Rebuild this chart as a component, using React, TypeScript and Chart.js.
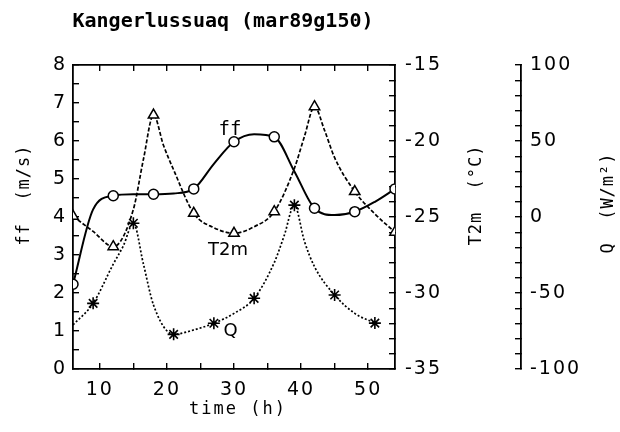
import React, { useEffect, useRef } from 'react';
import { Chart, registerables } from 'chart.js';

Chart.register(...registerables);

// ---- data ----
const ffHours = [6, 9, 12, 15, 18, 21, 24, 27, 30, 33, 36, 39, 42, 45, 48, 51, 54];
const ffValues = [2.23, 4.2, 4.56, 4.6, 4.6, 4.62, 4.74, 5.4, 5.98, 6.18, 6.11, 5.2, 4.23, 4.05, 4.14, 4.4, 4.74];
const t2mHours = [6, 9, 12, 15, 16.5, 18, 19.5, 21, 24, 27, 30, 33, 36, 39, 40.5, 42, 43.5, 45, 48, 51, 54];
const t2mValues = [-24.95, -25.95, -26.95, -24.5, -21.2, -18.29, -20.3, -21.9, -24.76, -25.7, -26.07, -25.64, -24.65, -21.8, -19.7, -17.74, -19.3, -21.1, -23.33, -24.8, -26.0];
const qHours = [6, 9, 12, 13.5, 15, 16.5, 18, 21, 24, 27, 30, 33, 36, 37.5, 39, 40.5, 42, 45, 48, 51];
const qValues = [-71, -56.8, -31, -19, -4.1, -31, -57.9, -77.2, -74.3, -69.9, -63.4, -53.5, -30, -12, 7.8, -16, -32.7, -51.3, -63.4, -69.8];

const ffMarkerHours = [6, 12, 18, 24, 30, 36, 42, 48, 54];
const t2mMarkerHours = [6, 12, 18, 24, 30, 36, 42, 48, 54];
const qMarkerHours = [9, 15, 21, 27, 33, 39, 45, 51];

// ---- ticks ----
const xMajorTicks = [10, 20, 30, 40, 50];
const ffMajorTicks = [0, 1, 2, 3, 4, 5, 6, 7, 8];
const t2mMajorTicks = [-35, -30, -25, -20, -15];
const qMajorTicks = [-100, -50, 0, 50, 100];

// ---- texts ----
const titleText = 'Kangerlussuaq (mar89g150)';
const xTitle = 'time (h)';
const ffTitle = 'ff  (m/s)';
const t2mTitle = 'T2m  (°C)';
const qTitle = 'Q  (W/m²)';
const seriesLabels = ['ff', 'T2m', 'Q'];
const seriesLabelHours = [29.4, 29.1, 29.5];
const seriesLabelLevels = [6.29, 3.11, 1.0];

function minorTicks(min: number, max: number, step: number) {
  const out: { value: number }[] = [];
  const n = Math.round((max - min) / step);
  for (let i = 0; i <= n; i++) out.push({ value: +(min + i * step).toFixed(4) });
  return out;
}

const tickFont = { family: 'DejaVu Sans', size: 19 };

function gridOpts() {
  return {
    drawOnChartArea: false,
    drawTicks: true,
    tickLength: -6,
    color: '#000',
    tickColor: '#000',
    tickWidth: 1.4,
    lineWidth: 1.4,
  };
}
const borderOpts = { display: true, color: '#000', width: 1.8 };

const textPlugin = {
  id: 'texts',
  beforeLayout(chart: any) {
    try { (chart.ctx as any).letterSpacing = '2px'; } catch (e) { /* ignore */ }
  },
  afterDraw(chart: any) {
    const ctx = chart.ctx as CanvasRenderingContext2D;
    const xs = chart.scales.x;
    const ys = chart.scales.y;
    ctx.save();
    ctx.fillStyle = '#000';
    ctx.textAlign = 'center';
    ctx.textBaseline = 'middle';
    (ctx as any).letterSpacing = '0px';
    ctx.font = 'bold 20px "DejaVu Sans Mono"';
    ctx.fillText(titleText, 223, 22);

    (ctx as any).letterSpacing = '2px';
    ctx.font = '17px "DejaVu Sans Mono"';
    ctx.fillText(xTitle, 238, 410);

    (ctx as any).letterSpacing = '1px';
    const vt = (t: string, x: number, y: number) => {
      ctx.save();
      ctx.translate(x, y);
      ctx.rotate(-Math.PI / 2);
      ctx.fillText(t, 0, 0);
      ctx.restore();
    };
    vt(ffTitle, 25, 195);
    vt(t2mTitle, 477, 195);
    vt(qTitle, 609, 203);

    (ctx as any).letterSpacing = '0px';
    seriesLabels.forEach((t, i) => {
      ctx.font = t === 'ff' ? '19px "DejaVu Sans Mono"' : '18px "DejaVu Sans"';
      ctx.fillText(t, xs.getPixelForValue(seriesLabelHours[i]), ys.getPixelForValue(seriesLabelLevels[i]));
    });
    ctx.restore();
  },
};

export default function App() {
  const ref = useRef<HTMLCanvasElement | null>(null);
  useEffect(() => {
    document.body.style.margin = '0';
    const canvas = ref.current!;
    const radiusFor = (marks: number[], hs: number[], r: number) => (c: any) =>
      marks.includes(hs[c.dataIndex]) ? r : 0;

    const chart = new Chart(canvas, {
      type: 'line',
      data: {
        datasets: [
          {
            label: 'ff',
            data: ffHours.map((h, i) => ({ x: h, y: ffValues[i] })),
            yAxisID: 'y',
            borderColor: '#000',
            borderWidth: 2,
            cubicInterpolationMode: 'monotone',
            pointStyle: 'circle',
            pointRadius: radiusFor(ffMarkerHours, ffHours, 5),
            pointBackgroundColor: '#fff',
            pointBorderColor: '#000',
            pointBorderWidth: 1.5,
            fill: false,
          } as any,
          {
            label: 'T2m',
            data: t2mHours.map((h, i) => ({ x: h, y: t2mValues[i] })),
            yAxisID: 'yT',
            borderColor: '#000',
            borderWidth: 1.7,
            borderDash: [4, 2],
            cubicInterpolationMode: 'monotone',
            pointStyle: 'triangle',
            pointRadius: radiusFor(t2mMarkerHours, t2mHours, 6),
            pointBackgroundColor: '#fff',
            pointBorderColor: '#000',
            pointBorderWidth: 1.5,
            fill: false,
          } as any,
          {
            label: 'Q',
            data: qHours.map((h, i) => ({ x: h, y: qValues[i] })),
            yAxisID: 'yQ',
            borderColor: '#000',
            borderWidth: 1.7,
            borderDash: [2, 2],
            cubicInterpolationMode: 'monotone',
            pointStyle: 'star',
            pointRadius: radiusFor(qMarkerHours, qHours, 6),
            pointBackgroundColor: '#000',
            pointBorderColor: '#000',
            pointBorderWidth: 1.6,
            fill: false,
          } as any,
        ],
      },
      options: {
        responsive: false,
        animation: false,
        devicePixelRatio: 1,
        layout: { padding: { top: 65, left: 0, right: 0, bottom: 0 } },
        plugins: { legend: { display: false }, tooltip: { enabled: false }, title: { display: false } },
        scales: {
          x: {
            type: 'linear',
            position: 'bottom',
            min: 6,
            max: 54,
            border: borderOpts,
            grid: gridOpts(),
            ticks: {
              autoSkip: false,
              maxRotation: 0,
              padding: 16,
              color: '#000',
              font: tickFont,
              callback: (v: any) => (xMajorTicks.includes(v) ? String(v) : ''),
            },
            afterBuildTicks: (s: any) => { s.ticks = minorTicks(10, 50, 5); },
            afterFit: (s: any) => { s.height = 63; },
          },
          xTop: {
            type: 'linear',
            position: 'top',
            min: 6,
            max: 54,
            border: borderOpts,
            grid: gridOpts(),
            ticks: { display: false },
            afterBuildTicks: (s: any) => { s.ticks = minorTicks(10, 50, 5); },
            afterFit: (s: any) => { s.height = 0; },
          },
          y: {
            type: 'linear',
            position: 'left',
            min: 0,
            max: 8,
            border: borderOpts,
            grid: gridOpts(),
            ticks: {
              autoSkip: false,
              padding: 12,
              color: '#000',
              font: tickFont,
              callback: (v: any) => (ffMajorTicks.includes(v) ? String(v) : ''),
            },
            afterBuildTicks: (s: any) => { s.ticks = minorTicks(0, 8, 0.5); },
            afterFit: (s: any) => { s.width = 73; },
          },
          yT: {
            type: 'linear',
            position: 'right',
            min: -35,
            max: -15,
            border: borderOpts,
            grid: gridOpts(),
            ticks: {
              autoSkip: false,
              padding: 16,
              color: '#000',
              font: tickFont,
              callback: (v: any) => (t2mMajorTicks.includes(v) ? String(v) : ''),
            },
            afterBuildTicks: (s: any) => { s.ticks = minorTicks(-35, -15, 1); },
            afterFit: (s: any) => { s.width = 126; },
          },
          yQ: {
            type: 'linear',
            position: 'right',
            min: -100,
            max: 100,
            border: borderOpts,
            grid: gridOpts(),
            ticks: {
              autoSkip: false,
              padding: 15,
              color: '#000',
              font: tickFont,
              callback: (v: any) => (qMajorTicks.includes(v) ? String(v) : ''),
            },
            afterBuildTicks: (s: any) => { s.ticks = minorTicks(-100, 100, 10); },
            afterFit: (s: any) => { s.width = 99; },
          },
        },
      } as any,
      plugins: [textPlugin],
    });
    return () => chart.destroy();
  }, []);

  return (
    <div style={{ width: 620, height: 432, background: '#fff' }}>
      <canvas ref={ref} width={620} height={432} style={{ display: 'block' }} />
    </div>
  );
}
